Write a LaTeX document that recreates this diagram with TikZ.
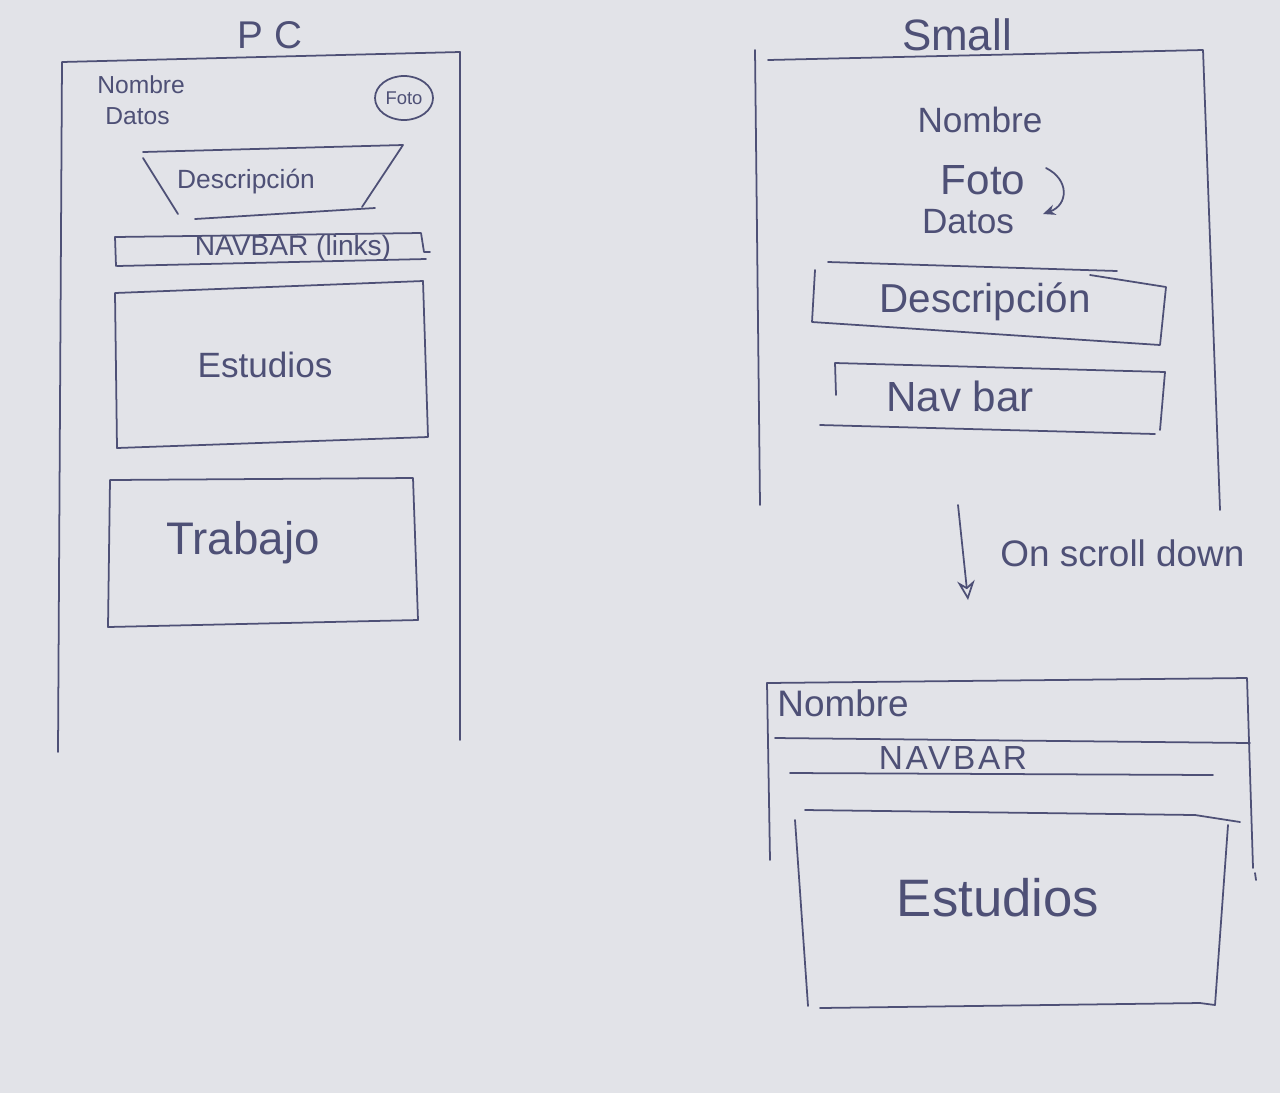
\documentclass[tikz,border=0pt]{standalone}
\usepackage{fontspec}
\setmainfont{Liberation Sans}
\usetikzlibrary{arrows.meta,shapes.geometric}
\definecolor{paper}{RGB}{226,227,232}
\definecolor{ink}{RGB}{78,80,118}
\begin{document}
\begin{tikzpicture}[x=0.02cm,y=-0.02cm,
  pen/.style={draw=ink,line width=1pt,line cap=round,line join=round},
  lbl/.style={text=ink,inner sep=0pt},
  fs/.style={font=\fontsize{#1}{#1}\selectfont}]
\fill[paper] (0,0) rectangle (1280,1093);
\useasboundingbox (0,0) rectangle (1280,1093);

% ---------- desktop layout ----------
\node[lbl,fs=22] (pcTitle) at (270,35) {P C};
\coordinate (pcTL) at (62,62);
\coordinate (pcTR) at (460,52);
\coordinate (pcBL) at (58,752);
\coordinate (pcBR) at (460,740);
\draw[pen] (pcBL) -- (pcTL) -- (pcTR) -- (pcBR);

\node[lbl,fs=14,anchor=west] (pcName) at (97,85) {Nombre};
\node[lbl,fs=14,anchor=west] (pcData) at (105,116) {Datos};
\node[pen,ellipse,minimum width=1.16cm,minimum height=0.88cm,inner sep=0pt,text=ink,fs=10.5] (pcPhoto) at (404,98) {Foto};

% description block (trapezoid)
\draw[pen] (143,152) -- (403,145) -- (362,207);
\draw[pen] (143,158) -- (178,214);
\draw[pen] (195,219) -- (375,208);
\node[lbl,fs=15] (pcDesc) at (246,182) {Descripción};

% navigation bar
\draw[pen] (116,266) -- (115,237) -- (421,233) -- (424,252) -- (430,252);
\draw[pen] (117,266) -- (426,259);
\node[lbl,fs=16] (pcNav) at (293,248) {NAVBAR (links)};

% studies and work blocks
\draw[pen] (115,293) -- (423,281) -- (428,437) -- (117,448) -- cycle;
\node[lbl,fs=20] (pcStudies) at (265,365) {Estudios};
\draw[pen] (110,480) -- (413,478) -- (418,620) -- (108,627) -- cycle;
\node[lbl,fs=26] (pcWork) at (243,543) {Trabajo};

% ---------- small-screen layout ----------
\node[lbl,fs=25] (smTitle) at (957,35) {Small};
\draw[pen] (760,505) -- (755,50);
\draw[pen] (768,60) -- (1203,50) -- (1220,510);

\node[lbl,fs=20] (smName) at (980,120) {Nombre};
\node[lbl,fs=24] (smPhoto) at (983,180) {Foto};
\node[lbl,fs=20] (smData) at (968,222) {Datos};
% photo moves below the data on small screens
\coordinate (swapFrom) at (1046,168);
\coordinate (swapTo) at (1043,214);
\draw[pen,-{Stealth[length=7pt,width=6pt]}] (swapFrom) .. controls (1070,180) and (1068,205) .. (swapTo);

% description box
\draw[pen] (828,262) -- (1117,271);
\draw[pen] (815,270) -- (812,322) -- (1160,345) -- (1166,287) -- (1090,275);
\node[lbl,fs=23] (smDesc) at (985,302) {Descripción};

% navigation bar box
\draw[pen] (836,395) -- (835,363) -- (1165,372) -- (1160,430);
\draw[pen] (820,425) -- (1155,434);
\node[lbl,fs=24] (smNav) at (960,396) {Nav bar};

% scroll transition
\coordinate (scrollFrom) at (958,505);
\coordinate (scrollTo) at (968,600);
\draw[pen,-{Stealth[open,length=11pt,width=10pt]}] (scrollFrom) -- (scrollTo);
\node[lbl,fs=21,anchor=west] (scrollNote) at (1000,553) {On scroll down};

% ---------- small-screen layout after scrolling ----------
\draw[pen] (770,860) -- (767,683) -- (1247,678) -- (1253,868);
\draw[pen] (1255,873) -- (1256,880);
\node[lbl,fs=21,anchor=west] (stName) at (777,703) {Nombre};
\draw[pen] (775,738) -- (1250,743);
\node[lbl,fs=19] (stNav) at (953,758) {\addfontfeature{LetterSpace=8}NAVBAR};
\draw[pen] (790,773) -- (1213,775);

% studies box
\draw[pen] (805,810) -- (1195,815) -- (1240,822);
\draw[pen] (795,820) -- (808,1006);
\draw[pen] (820,1008) -- (1200,1003) -- (1215,1005) -- (1228,825);
\node[lbl,fs=30] (stStudies) at (998,898) {Estudios};
\end{tikzpicture}
\end{document}
